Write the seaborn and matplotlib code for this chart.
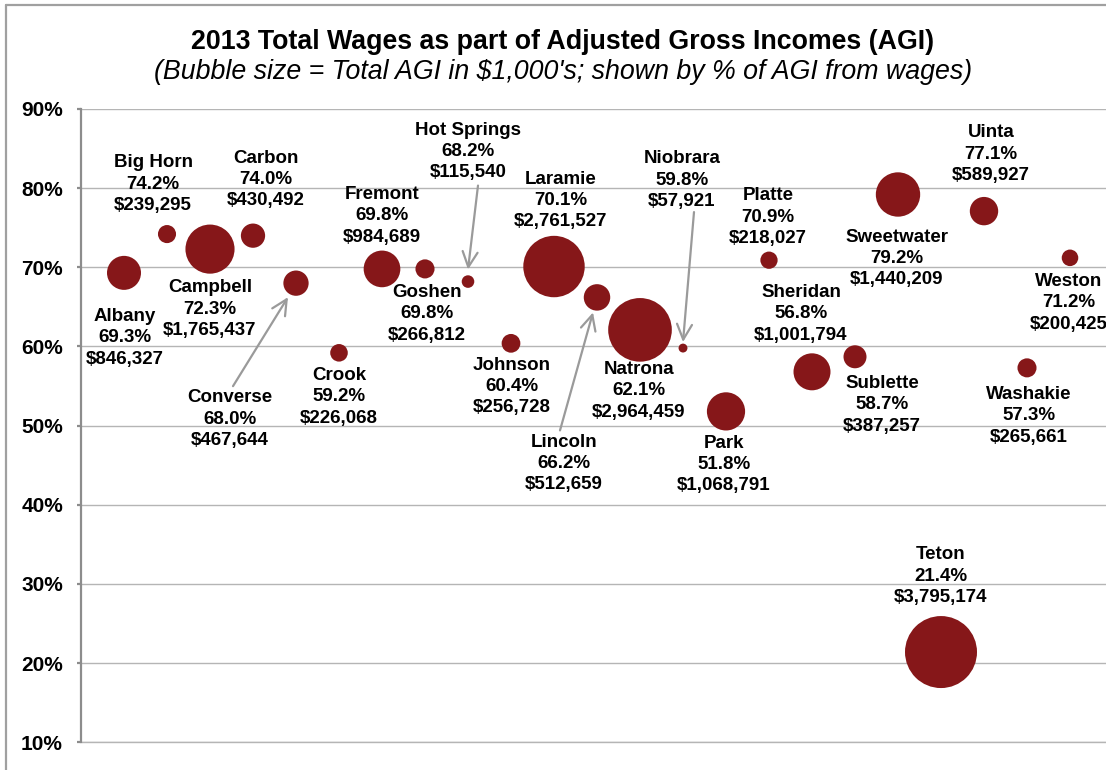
import numpy as np
import pandas as pd
import seaborn as sns
import matplotlib.pyplot as plt
from matplotlib.lines import Line2D
from matplotlib.transforms import offset_copy

# Wyoming counties, 2013
counties = ["Albany", "Big Horn", "Campbell", "Carbon", "Converse", "Crook",
            "Fremont", "Goshen", "Hot Springs", "Johnson", "Laramie", "Lincoln",
            "Natrona", "Niobrara", "Park", "Platte", "Sheridan", "Sublette",
            "Sweetwater", "Teton", "Uinta", "Washakie", "Weston"]
wage_pct = [69.3, 74.2, 72.3, 74.0, 68.0, 59.2, 69.8, 69.8, 68.2, 60.4, 70.1, 66.2,
            62.1, 59.8, 51.8, 70.9, 56.8, 58.7, 79.2, 21.4, 77.1, 57.3, 71.2]
total_agi = [846327, 239295, 1765437, 430492, 467644, 226068, 984689, 266812,
             115540, 256728, 2761527, 512659, 2964459, 57921, 1068791, 218027,
             1001794, 387257, 1440209, 3795174, 589927, 265661, 200425]
y_ticks = [10, 20, 30, 40, 50, 60, 70, 80, 90]

# label centre offsets from bubble centre, in pixels (x right, y up)
label_offsets = {
    "Albany": (1, -65), "Big Horn": (-14, 50), "Campbell": (0, -60),
    "Carbon": (13, 56), "Converse": (-66, -136), "Crook": (0, -44),
    "Fremont": (0, 53), "Goshen": (2, -45), "Hot Springs": (0, 130),
    "Johnson": (1, -43), "Laramie": (7, 66), "Lincoln": (-33, -166),
    "Natrona": (-1, -61), "Niobrara": (-1, 168), "Park": (-2, -53),
    "Platte": (-1, 43), "Sheridan": (-11, 58), "Sublette": (27, -48),
    "Sweetwater": (-1, -64), "Teton": (0, 76), "Uinta": (7, 57),
    "Washakie": (2, -48), "Weston": (-1, -45),
}
# leader arrows: (start offset, tip offset) from bubble centre, pixels
arrows = {
    "Converse": ((-63, -103), (-8, -14)),
    "Hot Springs": ((10, 96), (0, 12)),
    "Lincoln": ((-37, -133), (-4, -15)),
    "Niobrara": ((11, 136), (0, 6)),
}

df = pd.DataFrame({"county": counties, "pct": wage_pct, "agi": total_agi})
df["idx"] = np.arange(1, len(df) + 1)

W, H = 1106, 770
sns.set_style("white")
plt.rcParams["font.family"] = ["Liberation Sans", "DejaVu Sans"]
plt.rcParams["text.color"] = "black"
plt.rcParams["ytick.labelcolor"] = "black"

fig = plt.figure(figsize=(W / 100, H / 100), dpi=100)
ax = fig.add_axes([81 / W, (H - 742.3) / H, 1032 / W, (742.3 - 109) / H])

bubble = "#861719"
smax = (72 * 0.72) ** 2
sns.scatterplot(data=df, x="idx", y="pct", size="agi", sizes=(0, smax),
                size_norm=(0, max(total_agi)), color=bubble, linewidth=0,
                legend=False, ax=ax, zorder=3, alpha=1)

ax.set_xlim(0, 24)
ax.set_ylim(10, 90)
ax.set_yticks(y_ticks)
ax.set_yticklabels([f"{t}%" for t in y_ticks], fontsize=15, fontweight="bold",
                   color="black")
ax.set_xticks([])
ax.set_xlabel("")
ax.set_ylabel("")
ax.grid(axis="y", color="#b5b5b5", linewidth=1.0, zorder=0)
ax.axhline(10, color="#b5b5b5", linewidth=1.0, zorder=0, clip_on=False)
ax.set_axisbelow(True)
for s in ["top", "right", "bottom"]:
    ax.spines[s].set_visible(False)
ax.spines["left"].set_color("#8c8c8c")
ax.spines["left"].set_linewidth(1.6)
ax.tick_params(axis="y", left=True, length=3, width=1.6, color="#8c8c8c", pad=10)

for _, r in df.iterrows():
    dx, dy = label_offsets[r["county"]]
    txt = f"{r['county']}\n{r['pct']:.1f}%\n${r['agi']:,.0f}"
    ax.annotate(txt, xy=(r["idx"], r["pct"]), xytext=(dx, dy),
                textcoords="offset pixels", ha="center", va="center",
                multialignment="center", fontsize=13.5, fontweight="bold",
                linespacing=1.33, color="black", zorder=4)

for name, (start, tip) in arrows.items():
    r = df[df["county"] == name].iloc[0]
    ax.annotate("", xy=(r["idx"], r["pct"]),
                xycoords=offset_copy(ax.transData, fig=fig, x=tip[0], y=tip[1], units="dots"),
                xytext=(r["idx"], r["pct"]),
                textcoords=offset_copy(ax.transData, fig=fig, x=start[0], y=start[1], units="dots"),
                arrowprops=dict(arrowstyle="->,head_length=0.55,head_width=0.27",
                                mutation_scale=20, color="#9a9a9a", lw=1.6,
                                shrinkA=0, shrinkB=0),
                zorder=4)

fig.text(563 / W, 1 - 42 / H, "2013 Total Wages as part of Adjusted Gross Incomes (AGI)",
         ha="center", va="center", fontsize=19.3, fontweight="bold")
fig.text(563 / W, 1 - 72 / H,
         "(Bubble size = Total AGI in $1,000's; shown by % of AGI from wages)",
         ha="center", va="center", fontsize=19.3, fontstyle="italic")

# outer chart border (cropped at right and bottom)
fig.add_artist(Line2D([6 / W, 1], [1 - 5 / H, 1 - 5 / H], color="#a0a0a0", lw=1.6))
fig.add_artist(Line2D([6 / W, 6 / W], [0, 1 - 5 / H], color="#a0a0a0", lw=1.6))

fig.savefig("out.png", dpi=100)
